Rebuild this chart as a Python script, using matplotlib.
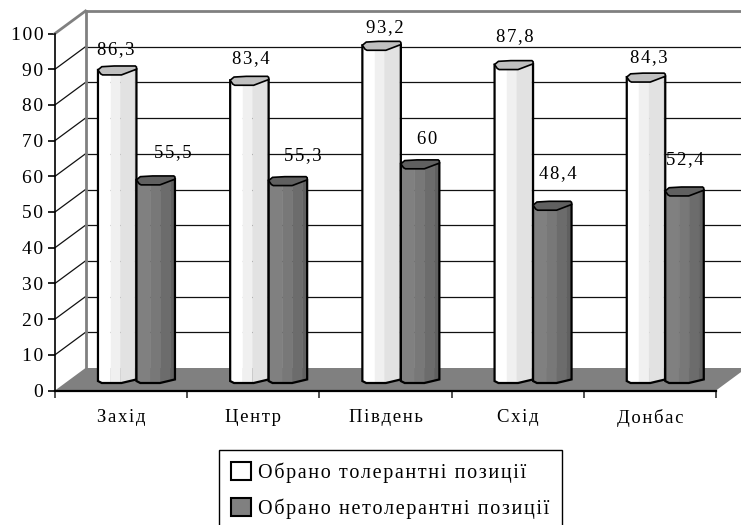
import numpy as np
import matplotlib
matplotlib.use("Agg")
import matplotlib.pyplot as plt
from matplotlib.patches import Polygon, Patch

categories = ["Захід", "Центр", "Південь", "Схід", "Донбас"]
tolerant = [86.3, 83.4, 93.2, 87.8, 84.3]
intolerant = [55.5, 55.3, 60, 48.4, 52.4]
series_names = ["Обрано толерантні позиції", "Обрано нетолерантні позиції"]
y_ticks = list(range(0, 101, 10))

plt.rcParams["font.family"] = ["Liberation Serif", "DejaVu Serif"]

W, H = 741, 525
fig = plt.figure(figsize=(W / 100, H / 100), dpi=100)
ax = fig.add_axes([55 / W, 1 - 390.5 / H, 661 / W, 357 / H])
ax.set_xlim(0, 5)
ax.set_ylim(0, 100)


def spaced(s):
    # the reference text is letter spaced, hair spaces get close to that
    return "\u200a".join(s)


# depth of the fake 3d box, in data units
depth_x = 30.5 / 132.2
depth_y = 22.5 / 3.57
bar_w = 38.5 / 132.2
bar_start = 0.325
base_y = 2.1

# floor
ax.add_patch(Polygon([(0, 0), (depth_x, depth_y), (5 + depth_x, depth_y), (5, 0)],
                     facecolor="#808080", edgecolor="none", clip_on=False, zorder=1))

# back wall gridlines and the diagonal ones on the side wall
for t in y_ticks[1:]:
    top = t == 100
    c = "#808080" if top else "#111111"
    lw = 2 if top else 0.9
    ax.plot([0, depth_x], [t, t + depth_y], color=c, lw=lw, clip_on=False, zorder=2)
    ax.plot([depth_x, 5 + depth_x], [t + depth_y, t + depth_y], color=c, lw=lw, clip_on=False, zorder=2)
ax.plot([depth_x, depth_x], [depth_y, 100 + depth_y], color="#808080", lw=2, clip_on=False, zorder=2)

# outlines of a bar, as (fraction of width, height above front)
top_edge = [(0, 1.4), (0.07, 0.3), (0.12, 0), (0.61, 0), (1.0, 1.6)]
bottom_edge = [(0, 0.55), (0.1, 0), (0.61, 0), (1.0, 1.0)]
top_cap = [(0, 1.4), (0.07, 0.3), (0.12, 0), (0.61, 0), (1.0, 1.6), (1.0, 2.2),
           (0.97, 2.5), (0.42, 2.5), (0.1, 2.3)]


def draw_bar(x0, v, strips, cap_color, z):
    top_y = base_y + v
    tf, td = zip(*top_edge)
    bf, bd = zip(*bottom_edge)
    for a, b, col in strips:
        fr = np.linspace(a, b, 6)
        upper = top_y + np.interp(fr, tf, td)
        lower = base_y + np.interp(fr, bf, bd)
        pts = list(zip(x0 + fr * bar_w, upper)) + list(zip(x0 + fr[::-1] * bar_w, lower[::-1]))
        ax.add_patch(Polygon(pts, facecolor=col, edgecolor=col, lw=0.3, zorder=z))
    outline = [(x0 + f * bar_w, base_y + d) for f, d in bottom_edge]
    outline = outline + [(x0 + bar_w, top_y + 1.6), (x0, top_y + 1.4)]
    ax.add_patch(Polygon(outline, closed=True, facecolor="none", edgecolor="black", lw=1.6, zorder=z))
    cap = [(x0 + f * bar_w, top_y + d) for f, d in top_cap]
    ax.add_patch(Polygon(cap, closed=True, facecolor=cap_color, edgecolor="black", lw=1.2, zorder=z))


white_strips = [(0, 0.33, "#ffffff"), (0.33, 0.58, "#f0f0f0"), (0.58, 0.96, "#e2e2e2"), (0.96, 1, "#cccccc")]
dark_strips = [(0, 0.36, "#808080"), (0.36, 0.62, "#787878"), (0.62, 0.88, "#6c6c6c"), (0.88, 1, "#606060")]

for i in range(len(categories)):
    draw_bar(i + bar_start, tolerant[i], white_strips, "#c0c0c0", 3 + i)
    draw_bar(i + bar_start + bar_w, intolerant[i], dark_strips, "#606060", 3.5 + i)

# data labels, offsets picked by eye in points
tol_dx = [-1, 1, 2, 1, 2]
tol_dy = [12, 13, 10, 17, 11]
int_dx = [12, 11, 5, 4, 0]
int_dy = [17, 15, 15, 20, 20]
for i in range(len(categories)):
    cx = i + bar_start + bar_w / 2
    ax.annotate(spaced(f"{tolerant[i]:g}".replace(".", ",")), (cx, base_y + tolerant[i] + 2.5),
                xytext=(tol_dx[i], tol_dy[i]), textcoords="offset points",
                ha="center", va="center", fontsize=13.5, annotation_clip=False, zorder=20)
    ax.annotate(spaced(f"{intolerant[i]:g}".replace(".", ",")), (cx + bar_w, base_y + intolerant[i] + 2.5),
                xytext=(int_dx[i], int_dy[i]), textcoords="offset points",
                ha="center", va="center", fontsize=13.5, annotation_clip=False, zorder=20)

for s in ["top", "right"]:
    ax.spines[s].set_visible(False)
ax.patch.set_visible(False)
ax.spines["left"].set_linewidth(1.2)
ax.spines["bottom"].set_linewidth(1.6)
ax.spines["left"].set_zorder(15)
ax.spines["bottom"].set_zorder(15)

ax.set_yticks(y_ticks)
ax.set_yticklabels([spaced(str(t)) for t in y_ticks], fontsize=14)
ax.set_xticks(range(6))
ax.set_xticklabels([""] * 6)
ax.tick_params(axis="y", length=5, width=1.2, pad=3.5)
ax.tick_params(axis="x", length=5, width=1.2, color="#333333")
for i, name in enumerate(categories):
    ax.annotate(spaced(name), (i + 0.5, 0), xytext=(0, -19.5), textcoords="offset points",
                ha="center", va="center", fontsize=13.5, annotation_clip=False)

handles = [Patch(facecolor="white", edgecolor="black", lw=1.5),
           Patch(facecolor="#808080", edgecolor="black", lw=1.5)]
leg = fig.legend(handles, [spaced(n) for n in series_names], loc="upper left",
                 bbox_to_anchor=(219 / W, 1 - 450 / H),
                 borderaxespad=0, fontsize=14.5, handlelength=1.0, handleheight=1.0, handletextpad=0.35,
                 labelspacing=0.75, borderpad=0.6, fancybox=False, framealpha=1, edgecolor="black")
leg.get_frame().set_linewidth(1.0)

fig.savefig("out.png", dpi=100)
